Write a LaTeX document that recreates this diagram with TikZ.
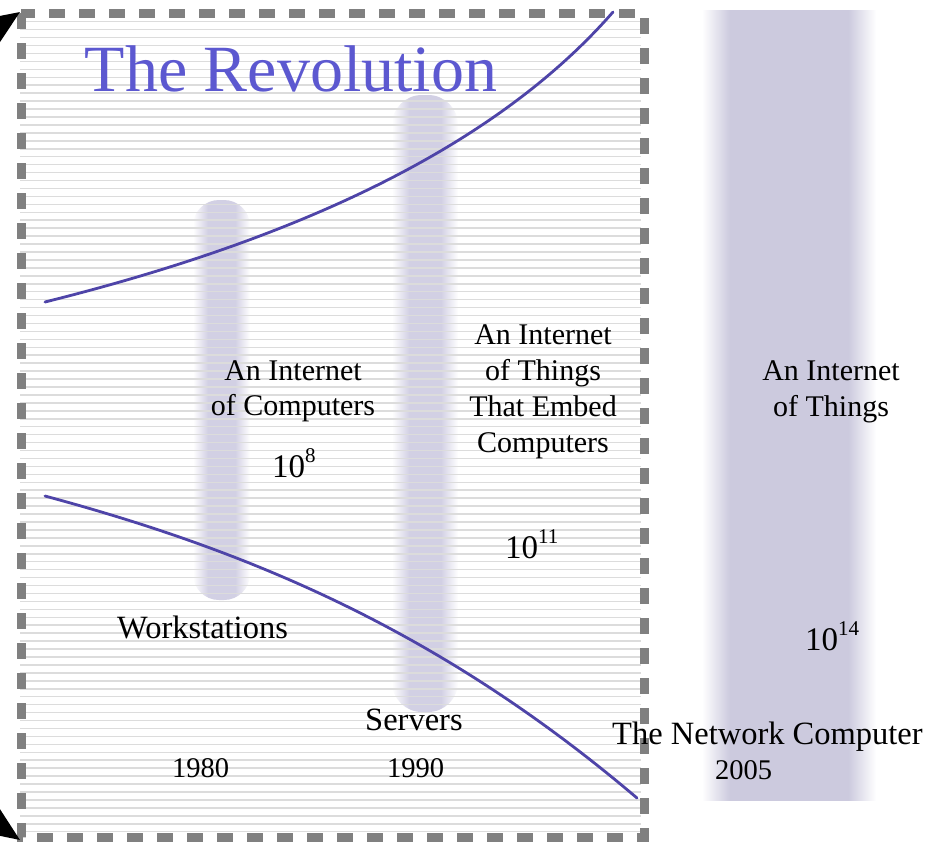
\documentclass[tikz,border=0pt]{standalone}
\usepackage{fontspec}
\setmainfont{Liberation Serif}
\usetikzlibrary{arrows.meta}
\definecolor{barcol}{RGB}{204,202,222}
\definecolor{barcolL}{RGB}{210,208,228}
\definecolor{titlecol}{RGB}{92,88,208}
\definecolor{curvecol}{RGB}{78,68,168}
\definecolor{bordercol}{RGB}{128,128,128}
\definecolor{stripecol}{RGB}{220,220,220}
\pgfdeclarehorizontalshading{barshadeA}{100bp}{color(0bp)=(white); color(25bp)=(white); color(38bp)=(barcolL); color(62bp)=(barcolL); color(75bp)=(white); color(100bp)=(white)}
\pgfdeclarehorizontalshading{barshadeB}{100bp}{color(0bp)=(white); color(25bp)=(white); color(33bp)=(barcol); color(67bp)=(barcol); color(75bp)=(white); color(100bp)=(white)}
\newcommand{\mysup}[1]{\raisebox{15pt}{\fontsize{21}{21}\selectfont #1}}
\begin{document}
\begin{tikzpicture}[x=1pt,y=-1pt,
  lab/.style={inner sep=0pt, anchor=base, font=\fontsize{30}{36}\selectfont},
  labw/.style={inner sep=0pt, anchor=base west, font=\fontsize{32.5}{36}\selectfont},
  num/.style={inner sep=0pt, anchor=base west, font=\fontsize{33}{36}\selectfont},
  yr/.style={inner sep=0pt, anchor=base west, font=\fontsize{28.5}{34}\selectfont},
  stripe/.style={draw=stripecol, line width=1.5pt},
  curve/.style={draw=curvecol, line width=2.8pt, line cap=round},
  border/.style={draw=bordercol, line width=9pt, dash pattern=on 16pt off 14pt},
  cornerarrow/.style={-{Triangle[length=44pt,width=36pt]}, line width=3pt, black},
]
\useasboundingbox (0,0) rectangle (937,841);
\clip (0,0) rectangle (937,841);
\fill[white] (0,0) rectangle (937,841);
% shaded bars
\path[shading=barshadeA, rounded corners=26pt] (193,200) rectangle (250,600);
\path[shading=barshadeA, rounded corners=30pt] (392,95) rectangle (458,712);
\path[shading=barshadeB] (702,10) rectangle (876,800);
% stripes
\foreach \k in {0,...,102} {
  \draw[stripe] (20,{21.7+\k*7.941}) -- (641,{21.7+\k*7.941});
}
% curves
\draw[curve] (45,302) .. controls (265,247) and (483,161) .. (613,12);
\draw[curve] (45,496) .. controls (245,550) and (437,628) .. (637,798);
% border
\draw[border] (21,13) rectangle (644,837);
% corner arrows
\coordinate (a1s) at (-40,52);
\coordinate (a1e) at (20,12);
\coordinate (a2s) at (-40,799);
\coordinate (a2e) at (20,840);
\draw[cornerarrow] (a1s) -- (a1e);
\draw[cornerarrow] (a2s) -- (a2e);
% texts
\node[inner sep=0pt, anchor=base, text=titlecol, font=\fontsize{66}{70}\selectfont] (title) at (291,91) {The Revolution};
\node[lab] (ic1) at (293,380) {An Internet};
\node[lab] (ic2) at (293,415) {of Computers};
\node[num] (n8) at (272,477) {10\mysup{8}};
\node[lab] (it1) at (543,344) {An Internet};
\node[lab] (it2) at (543,380) {of Things};
\node[lab] (it3) at (543,416) {That Embed};
\node[lab] (it4) at (543,452) {Computers};
\node[num] (n11) at (505,558) {10\mysup{11}};
\node[lab] (ix1) at (831,380) {An Internet};
\node[lab] (ix2) at (831,416) {of Things};
\node[num] (n14) at (805,650) {10\mysup{14}};
\node[labw] (ws) at (117,638) {Workstations};
\node[labw] (sv) at (365,730) {Servers};
\node[labw] (nc) at (612,744) {The Network Computer};
\node[yr] (y80) at (172,777) {1980};
\node[yr] (y90) at (387,777) {1990};
\node[yr] (y05) at (715,779) {2005};
\end{tikzpicture}
\end{document}
